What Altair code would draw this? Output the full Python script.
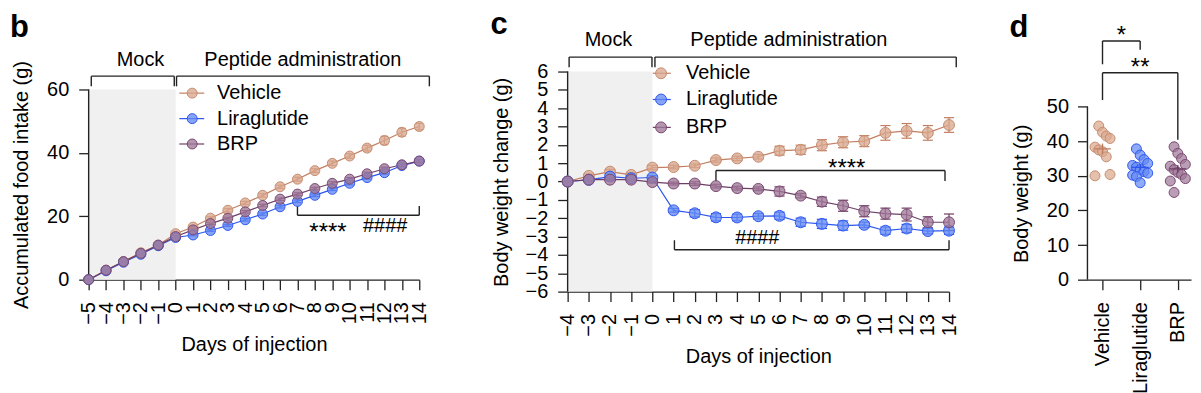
import altair as alt
import pandas as pd

FONT = "Liberation Sans"
INK = "#222222"
groups = ["Vehicle", "Liraglutide", "BRP"]

# ---------------- panel b : accumulated food intake ----------------
days_b = list(range(-5, 15))
food_vehicle = [0, 3.0, 5.7, 8.5, 10.9, 14.5, 16.6, 19.4, 21.9, 24.2, 26.6, 29.3, 31.7, 34.4, 36.7, 39.0, 41.5, 43.9, 46.5, 48.3]
food_lira = [0, 2.8, 5.5, 8.0, 10.7, 13.3, 14.1, 15.5, 17.1, 18.9, 20.7, 23.0, 24.7, 26.6, 28.5, 30.4, 32.2, 33.75, 36.0, 37.4]
food_brp = [0, 3.0, 5.7, 8.3, 10.9, 13.6, 15.7, 17.7, 19.4, 21.4, 23.4, 25.4, 27.0, 28.75, 30.4, 31.7, 33.4, 35.0, 36.25, 37.4]
food_vehicle_sem = [0, 0.2, 0.2, 0.3, 0.3, 0.3, 0.4, 0.4, 0.5, 0.5, 0.5, 0.5, 0.6, 0.6, 0.7, 0.7, 0.9, 1.3, 1.2, 1.0]
food_lira_sem = [0, 0.2, 0.2, 0.2, 0.3, 0.3, 0.3, 0.3, 0.3, 0.4, 0.4, 0.4, 0.4, 0.4, 0.4, 0.5, 0.5, 0.5, 0.5, 0.5]
food_brp_sem = [0, 0.2, 0.2, 0.2, 0.3, 0.3, 0.3, 0.3, 0.3, 0.4, 0.4, 0.4, 0.4, 0.4, 0.5, 0.5, 0.5, 0.5, 0.5, 0.5]

# ---------------- panel c : body weight change ----------------
days_c = list(range(-4, 15))
bwc_vehicle = [0, 0.31, 0.54, 0.36, 0.76, 0.79, 0.86, 1.17, 1.26, 1.35, 1.68, 1.73, 1.98, 2.14, 2.20, 2.65, 2.76, 2.65, 3.08]
bwc_lira = [0, 0.09, 0.27, 0.18, 0.22, -1.57, -1.73, -1.95, -1.96, -1.89, -1.87, -2.22, -2.31, -2.40, -2.36, -2.68, -2.56, -2.70, -2.68]
bwc_brp = [0, 0.10, 0.10, 0.10, -0.03, -0.11, -0.11, -0.25, -0.36, -0.40, -0.54, -0.77, -1.10, -1.32, -1.62, -1.75, -1.80, -2.22, -2.22]
bwc_vehicle_sem = [0, 0.10, 0.12, 0.12, 0.12, 0.10, 0.10, 0.12, 0.12, 0.12, 0.24, 0.25, 0.30, 0.30, 0.30, 0.40, 0.40, 0.40, 0.40]
bwc_lira_sem = [0, 0.08, 0.10, 0.10, 0.10, 0.10, 0.20, 0.20, 0.18, 0.15, 0.20, 0.22, 0.25, 0.25, 0.15, 0.20, 0.22, 0.15, 0.20]
bwc_brp_sem = [0, 0.05, 0.05, 0.05, 0.05, 0.08, 0.10, 0.10, 0.10, 0.10, 0.25, 0.12, 0.25, 0.30, 0.30, 0.30, 0.35, 0.30, 0.45]

# ---------------- panel d : final body weight ----------------
bw_vehicle = [44.4, 42.6, 41.5, 40.8, 38.3, 37.5, 37.0, 35.5, 30.4, 30.0]
bw_lira = [37.8, 36.0, 34.7, 33.6, 33.0, 32.5, 31.8, 31.2, 30.8, 30.2, 29.8, 28.0]
bw_brp = [38.4, 36.5, 35.0, 33.3, 32.8, 31.8, 31.0, 30.4, 29.2, 28.5, 25.2]

# colours
b_line = ["#C27E60", "#2B55EE", "#6E3E66"]
b_fill = ["#D9A88E", "#6489F4", "#A07898"]
b_edge = ["#C58C70", "#2E58EE", "#7A4A72"]
c_line = ["#C98868", "#2F6FD8", "#86587C"]
c_fill = ["#E4B69E", "#7AAAF2", "#8E5C84"]
c_edge = ["#CBA8DE", "#2F74DA", "#8A5A80"]
d_fill = ["#E2B6A0", "#6FA6F0", "#8E5A84"]
d_edge = ["#CBA8DE", "#2F6FE0", "#8A5A80"]
d_line = ["#C27A5A", "#2F6FE0", "#6E3E66"]


def axis_common():
    return dict(labelFont=FONT, titleFont=FONT, labelFontSize=20, titleFontSize=20,
                labelColor="black", titleColor="black", tickColor=INK, domainColor=INK,
                tickWidth=1.3, domainWidth=1.3, grid=False, titleFontWeight="normal",
                labelOverlap=False, labelFlush=False)


def long_df(days, vals, sems):
    rows = []
    for g in groups:
        for d, v, s in zip(days, vals[g], sems[g]):
            rows.append({"day": d, "value": v, "sem": s, "group": g})
    return pd.DataFrame(rows)


def seg_df(segs):
    return pd.DataFrame([{"x": a, "y": b, "x2": c, "y2": d} for a, b, c, d in segs])


def line_panel(df, X, Y, width, height, lines, fills, edges, pt_size, cap,
               shade, segs, texts, letter, legend, extra=None):
    col = alt.Color("group:N", scale=alt.Scale(domain=groups, range=lines), legend=None)
    fil = alt.Fill("group:N", scale=alt.Scale(domain=groups, range=fills), legend=None)
    stk = alt.Stroke("group:N", scale=alt.Scale(domain=groups, range=edges), legend=None)

    layers = []
    layers.append(alt.Chart(pd.DataFrame([shade])).mark_rect(color="#F0F0F0").encode(
        x=X("x"), x2="x2:Q", y=Y("y"), y2="y2:Q"))
    layers.append(alt.Chart(seg_df(segs)).mark_rule(color=INK, strokeWidth=1.4).encode(
        x=X("x"), x2="x2:Q", y=Y("y"), y2="y2:Q"))
    base = alt.Chart(df).transform_calculate(
        lo="datum.value - datum.sem", hi="datum.value + datum.sem",
        xl=f"datum.day - {cap}", xr=f"datum.day + {cap}")
    layers.append(base.mark_rule(strokeWidth=1.2).encode(x=X("day"), y=Y("lo"), y2="hi:Q", color=col))
    layers.append(base.mark_rule(strokeWidth=1.2).encode(x=X("xl"), x2="xr:Q", y=Y("lo"), color=col))
    layers.append(base.mark_rule(strokeWidth=1.2).encode(x=X("xl"), x2="xr:Q", y=Y("hi"), color=col))
    layers.append(alt.Chart(df).mark_line(strokeWidth=1.2).encode(
        x=X("day"), y=Y("value"), color=col, detail="group:N"))
    layers.append(alt.Chart(df).mark_circle(size=pt_size, strokeWidth=1, fillOpacity=0.78, opacity=1).encode(
        x=X("day"), y=Y("value"), fill=fil, stroke=stk))
    # legend
    xl, xr, xc, xt, ys = legend
    leg = pd.DataFrame({"group": groups, "y": ys, "xl": [xl] * 3, "xr": [xr] * 3,
                        "xc": [xc] * 3, "xt": [xt] * 3})
    layers.append(alt.Chart(leg).mark_rule(strokeWidth=1.2).encode(
        x=X("xl"), x2="xr:Q", y=Y("y"), color=col))
    layers.append(alt.Chart(leg).mark_circle(size=pt_size, strokeWidth=1, fillOpacity=0.78).encode(
        x=X("xc"), y=Y("y"), fill=fil, stroke=stk))
    layers.append(alt.Chart(leg).mark_text(font=FONT, fontSize=20, align="left", baseline="middle",
                                           color="black").encode(x=X("xt"), y=Y("y"), text="group:N"))
    # annotation texts
    tdf = pd.DataFrame([{"x": a, "y": b, "t": t, "fs": f} for a, b, t, f in texts])
    layers.append(alt.Chart(tdf).mark_text(font=FONT, align="center", baseline="alphabetic",
                                           color="black").encode(
        x=X("x"), y=Y("y"), text="t:N", size=alt.Size("fs:Q", scale=None)))
    ldf = pd.DataFrame([{"x": letter[0], "y": letter[1], "t": letter[2]}])
    layers.append(alt.Chart(ldf).mark_text(font=FONT, fontSize=31, fontWeight="bold", align="left",
                                           baseline="alphabetic", color="black").encode(
        x=X("x"), y=Y("y"), text="t:N"))
    if extra is not None:
        edf = pd.DataFrame([{"x": extra, "y": 0, "y2": 0.01}])
        layers.append(alt.Chart(edf).mark_rule(opacity=0).encode(x=X("x"), y=Y("y"), y2="y2:Q"))
    return alt.layer(*layers).properties(width=width, height=height)


# ---------- panel b ----------
xs_b = alt.Scale(domain=[-5, 14], nice=False, zero=False)
ys_b = alt.Scale(domain=[0, 84.5], nice=False, zero=False)
ax_xb = alt.Axis(values=days_b, tickSize=10, labelAngle=270, labelPadding=12,
                 title="Days of injection", titlePadding=10, **axis_common())
ax_yb = alt.Axis(values=[0, 20, 40, 60], domain=False, tickSize=10, labelPadding=10,
                 title="Accumulated food intake (g)", titleX=-57, titleY=173.5, titleAngle=270,
                 titleBaseline="bottom", titleAlign="center", **axis_common())


def Xb(f):
    return alt.X(f"{f}:Q", scale=xs_b, axis=ax_xb)


def Yb(f):
    return alt.Y(f"{f}:Q", scale=ys_b, axis=ax_yb)


df_b = long_df(days_b, {"Vehicle": food_vehicle, "Liraglutide": food_lira, "BRP": food_brp},
               {"Vehicle": food_vehicle_sem, "Liraglutide": food_lira_sem, "BRP": food_brp_sem})
segs_b = [(-5, 0, -5, 60),
          (-4.85, 64.2, -0.08, 64.2), (-4.85, 64.2, -4.85, 61.0), (-0.08, 64.2, -0.08, 61.0),
          (0.05, 64.2, 14.58, 64.2), (0.05, 64.2, 0.05, 61.0), (14.58, 64.2, 14.58, 61.0),
          (7, 20.3, 14, 20.3), (7, 20.3, 7, 23.2), (14, 20.3, 14, 23.2)]
texts_b = [(-2.02, 67.5, "Mock", 20), (7.31, 67.5, "Peptide administration", 20),
           (8.75, 12.6, "****", 24), (12.04, 15.1, "####", 20)]
panel_b = line_panel(df_b, Xb, Yb, 332, 269, b_line, b_fill, b_edge, 100, 0.22,
                     {"x": -5, "x2": 0, "y": 0, "y2": 60}, segs_b, texts_b,
                     (-9.52, 76.65, "b"), (0.21, 1.64, 0.95, 2.38, [58.84, 50.8, 42.8]), extra=15.15)

# ---------- panel c ----------
xs_c = alt.Scale(domain=[-4, 14], nice=False, zero=False)
ys_c = alt.Scale(domain=[-6, 9.25], nice=False, zero=False)
ax_xc = alt.Axis(values=days_c, tickSize=10, labelAngle=270, labelPadding=12,
                 title="Days of injection", titlePadding=10, **axis_common())
ax_yc = alt.Axis(values=list(range(-6, 7)), domain=False, tickSize=10, labelPadding=10,
                 title="Body weight change (g)", titleX=-56, titleY=170.8, titleAngle=270,
                 titleBaseline="bottom", titleAlign="center", **axis_common())


def Xc(f):
    return alt.X(f"{f}:Q", scale=xs_c, axis=ax_xc)


def Yc(f):
    return alt.Y(f"{f}:Q", scale=ys_c, axis=ax_yc)


df_c = long_df(days_c, {"Vehicle": bwc_vehicle, "Liraglutide": bwc_lira, "BRP": bwc_brp},
               {"Vehicle": bwc_vehicle_sem, "Liraglutide": bwc_lira_sem, "BRP": bwc_brp_sem})
segs_c = [(-4, -6, -4, 6),
          (-3.93, 6.78, -0.02, 6.78), (-3.93, 6.78, -3.93, 6.23), (-0.02, 6.78, -0.02, 6.23),
          (0.12, 6.78, 14.34, 6.78), (0.12, 6.78, 0.12, 6.23), (14.34, 6.78, 14.34, 6.23),
          (3, 0.60, 13.81, 0.60), (3, 0.60, 3, 0.03), (13.81, 0.60, 13.81, 0.03),
          (1.04, -3.72, 14, -3.72), (1.04, -3.72, 1.04, -3.20), (14, -3.72, 14, -3.20)]
texts_c = [(-2.07, 7.36, "Mock", 20), (6.44, 7.36, "Peptide administration", 20),
           (9.17, 0.30, "****", 24), (4.95, -3.41, "####", 20)]
panel_c = line_panel(df_c, Xc, Yc, 383, 281, c_line, c_fill, c_edge, 120, 0.24,
                     {"x": -4, "x2": 0, "y": -6, "y2": 6}, segs_c, texts_c,
                     (-7.64, 8.02, "c"), (0.02, 0.87, 0.41, 1.59, [5.9, 4.47, 2.95]))

# ---------- panel d ----------
xs_d = alt.Scale(domain=[-0.4, 2.35], nice=False, zero=False)
ys_d = alt.Scale(domain=[0, 77.4], nice=False, zero=False)
ax_xd = alt.Axis(values=[0, 1, 2], tickSize=10, labelAngle=270, labelPadding=12, title=None,
                 labelExpr="['Vehicle','Liraglutide','BRP'][datum.value]", **axis_common())
ax_yd = alt.Axis(values=[0, 10, 20, 30, 40, 50], domain=False, tickSize=10, labelPadding=9,
                 title="Body weight (g)", titleX=-56, titleY=182.3, titleAngle=270,
                 titleBaseline="bottom", titleAlign="center", **axis_common())


def Xd(f):
    return alt.X(f"{f}:Q", scale=xs_d, axis=ax_xd)


def Yd(f):
    return alt.Y(f"{f}:Q", scale=ys_d, axis=ax_yd)


bw = {"Vehicle": bw_vehicle, "Liraglutide": bw_lira, "BRP": bw_brp}
df_d = pd.DataFrame([{"group": g, "idx": i, "value": v} for i, g in enumerate(groups) for v in bw[g]])
fil_d = alt.Fill("group:N", scale=alt.Scale(domain=groups, range=d_fill), legend=None)
stk_d = alt.Stroke("group:N", scale=alt.Scale(domain=groups, range=d_edge), legend=None)
col_d = alt.Color("group:N", scale=alt.Scale(domain=groups, range=d_line), legend=None)

segs_d = [(-0.4, 0, -0.4, 50),
          (0, 68.97, 1, 68.97), (0, 68.97, 0, 62.24), (1, 68.97, 1, 66.47),
          (0, 59.77, 2, 59.77), (0, 59.77, 0, 51.9), (2, 59.77, 2, 40.4)]
texts_d = [(0.5, 68.25, "*", 24), (1.0, 59.14, "**", 24)]

d_layers = [
    alt.Chart(seg_df(segs_d)).mark_rule(color=INK, strokeWidth=1.4).encode(
        x=Xd("x"), x2="x2:Q", y=Yd("y"), y2="y2:Q"),
    alt.Chart(df_d).transform_window(
        rank="row_number()", groupby=["group"], sort=[alt.SortField("value", order="descending")]
    ).transform_calculate(xj="datum.idx + ((datum.rank % 5) - 2) * 0.1").mark_circle(
        size=100, strokeWidth=1, fillOpacity=0.72).encode(x=Xd("xj"), y=Yd("value"), fill=fil_d, stroke=stk_d),
]
mean_base = alt.Chart(df_d).transform_aggregate(
    m="mean(value)", se="stderr(value)", groupby=["group", "idx"]
).transform_calculate(lo="datum.m - datum.se", hi="datum.m + datum.se",
                      xl="datum.idx - 0.22", xr="datum.idx + 0.22")
d_layers.append(mean_base.mark_rule(strokeWidth=1.3).encode(x=Xd("xl"), x2="xr:Q", y=Yd("m"), color=col_d))
d_layers.append(mean_base.mark_rule(strokeWidth=1.3).encode(x=Xd("idx"), y=Yd("lo"), y2="hi:Q", color=col_d))
tdf_d = pd.DataFrame([{"x": a, "y": b, "t": t, "fs": f} for a, b, t, f in texts_d])
d_layers.append(alt.Chart(tdf_d).mark_text(font=FONT, align="center", baseline="alphabetic", color="black").encode(
    x=Xd("x"), y=Yd("y"), text="t:N", size=alt.Size("fs:Q", scale=None)))
d_layers.append(alt.Chart(pd.DataFrame([{"x": -2.47, "y": 70.1, "t": "d"}])).mark_text(
    font=FONT, fontSize=31, fontWeight="bold", align="left", baseline="alphabetic", color="black").encode(
    x=Xd("x"), y=Yd("y"), text="t:N"))
panel_d = alt.layer(*d_layers).properties(width=104, height=269)

chart = alt.hconcat(panel_b, panel_c, panel_d, spacing=50).properties(
    padding={"left": 2, "top": 0, "right": 0, "bottom": 0}, background="white"
).configure_view(stroke=None)

chart.save("out.html", embed_options={"renderer": "svg", "actions": False})
